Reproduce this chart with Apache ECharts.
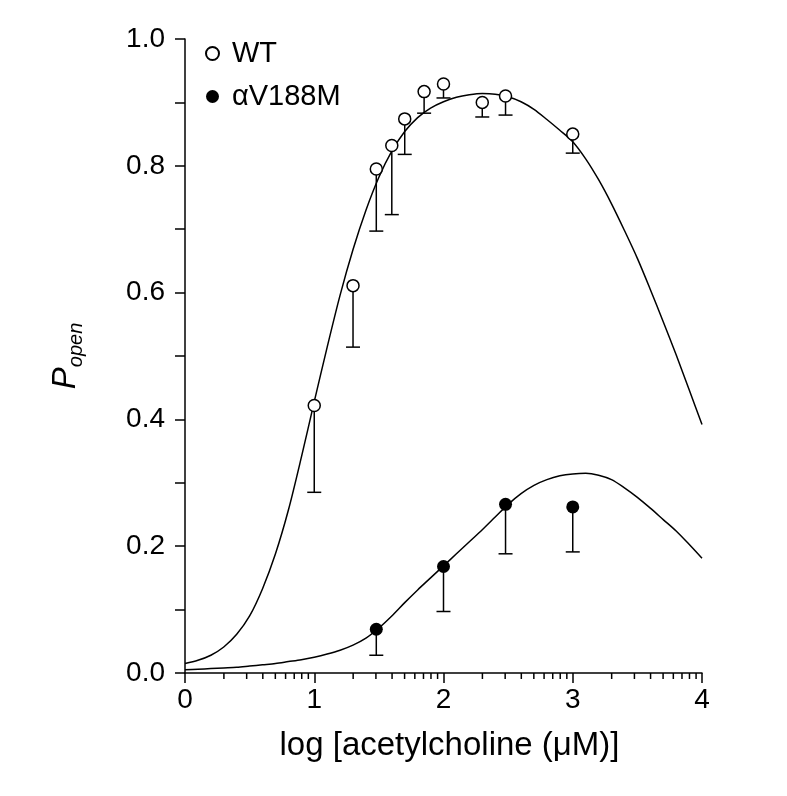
<!DOCTYPE html>
<html><head><meta charset="utf-8">
<script src="https://cdn.jsdelivr.net/npm/echarts@6/dist/echarts.min.js"></script>
<style>html,body{margin:0;padding:0;background:#fff;}#c{width:787px;height:796px;}</style>
</head><body><div id="c"></div>
<script>
// ---- data ----
const wtX     = [1.0, 1.3, 1.48, 1.6, 1.7, 1.85, 2.0, 2.3, 2.48, 3.0];
const wtY     = [0.422, 0.611, 0.795, 0.832, 0.874, 0.917, 0.929, 0.900, 0.910, 0.850];
const wtLow   = [0.285, 0.514, 0.697, 0.723, 0.818, 0.883, 0.907, 0.877, 0.880, 0.820];

const mutX    = [1.48, 2.0, 2.48, 3.0];
const mutY    = [0.069, 0.168, 0.266, 0.262];
const mutLow  = [0.028, 0.097, 0.188, 0.191];

// fitted curves, read at steps of 0.1 along x
const curveX = [0, 0.1, 0.2, 0.3, 0.4, 0.5, 0.6, 0.7, 0.8, 0.9,
                1.0, 1.1, 1.2, 1.3, 1.4, 1.5, 1.6, 1.7, 1.8, 1.9,
                2.0, 2.1, 2.2, 2.3, 2.4, 2.5, 2.6, 2.7, 2.8, 2.9,
                3.0, 3.1, 3.2, 3.3, 3.4, 3.5, 3.6, 3.7, 3.8, 3.9, 4.0];
const wtCurveY = [0.015, 0.020, 0.028, 0.041, 0.061, 0.090, 0.133, 0.188, 0.257, 0.340,
                  0.428, 0.514, 0.596, 0.668, 0.730, 0.782, 0.823, 0.854, 0.876, 0.891,
                  0.901, 0.908, 0.912, 0.914, 0.913, 0.909, 0.901, 0.889, 0.873, 0.856,
                  0.838, 0.811, 0.778, 0.740, 0.698, 0.654, 0.605, 0.554, 0.502, 0.447, 0.392];
const mutCurveY = [0.005, 0.006, 0.007, 0.008, 0.009, 0.011, 0.013, 0.015, 0.018, 0.021,
                   0.025, 0.030, 0.036, 0.044, 0.055, 0.071, 0.090, 0.111, 0.131, 0.150,
                   0.169, 0.188, 0.207, 0.226, 0.246, 0.266, 0.283, 0.296, 0.305, 0.311,
                   0.314, 0.315, 0.312, 0.305, 0.292, 0.277, 0.260, 0.242, 0.224, 0.203, 0.181];

const xTicks = [0, 1, 2, 3, 4];
const yTickLabels = ['0.0', '0.2', '0.4', '0.6', '0.8', '1.0'];
const seriesNames = ['WT', '\u03b1V188M'];
const xTitle = 'log [acetylcholine (\u03bcM)]';

// log minor tick positions within each decade
const minorTicks = [];
for (let d = 0; d < 4; d++) for (let k = 2; k <= 9; k++) minorTicks.push(d + Math.log10(k));

const FONT = '"Liberation Sans", Arial, Helvetica, sans-serif';
const zip = (a, b) => a.map((v, i) => [v, b[i]]);

function errBars(xs, ys, lows) {
  return {
    type: 'custom', silent: true, z: 3, clip: false,
    data: xs.map((x, i) => [x, ys[i], lows[i]]),
    renderItem: (params, api) => {
      const p = api.coord([api.value(0), api.value(1)]);
      const q = api.coord([api.value(0), api.value(2)]);
      const st = { stroke: '#000', lineWidth: 1.5 };
      return { type: 'group', children: [
        { type: 'line', shape: { x1: p[0], y1: p[1], x2: q[0], y2: q[1] }, style: st },
        { type: 'line', shape: { x1: q[0] - 7, y1: q[1], x2: q[0] + 7, y2: q[1] }, style: st }
      ]};
    }
  };
}

const chart = echarts.init(document.getElementById('c'), null, { renderer: 'canvas' });
chart.setOption({
  animation: false,
  backgroundColor: '#fff',
  textStyle: { fontFamily: FONT, color: '#000' },
  grid: { left: 185, right: 85, top: 39, bottom: 123 },
  legend: {
    orient: 'vertical', left: 205, top: 38, padding: 0,
    itemWidth: 13, itemHeight: 13, itemGap: 12,
    data: [{ name: seriesNames[0], icon: 'circle' }, { name: seriesNames[1], icon: 'circle' }],
    textStyle: { fontFamily: FONT, fontSize: 29, color: '#000', lineHeight: 31, padding: [0, 0, 0, 8] }
  },
  xAxis: {
    type: 'value', min: 0, max: 4, interval: 1,
    axisLine: { lineStyle: { color: '#000', width: 1.5 } },
    axisTick: { length: 10, lineStyle: { color: '#000', width: 1.5 } },
    axisLabel: { color: '#000', fontSize: 28, fontFamily: FONT, margin: 13,
      formatter: v => String(xTicks[Math.round(v)]) },
    splitLine: { show: false },
    name: xTitle, nameLocation: 'middle', nameGap: 56,
    nameTextStyle: { fontSize: 33, fontFamily: FONT, color: '#000', padding: [0, 0, 0, 12] }
  },
  yAxis: {
    type: 'value', min: 0, max: 1, interval: 0.1,
    axisLine: { lineStyle: { color: '#000', width: 1.5 } },
    axisTick: { length: 10, lineStyle: { color: '#000', width: 1.5 } },
    axisLabel: { color: '#000', fontSize: 28, fontFamily: FONT, margin: 20,
      formatter: v => { const i = Math.round(v * 10); return i % 2 === 0 ? yTickLabels[i / 2] : ''; } },
    splitLine: { show: false },
    name: '{p|P}{s|open}', nameLocation: 'middle', nameGap: 99,
    nameTextStyle: { rich: {
      p: { fontSize: 33, fontStyle: 'italic', fontFamily: FONT, color: '#000', verticalAlign: 'middle' },
      s: { fontSize: 20, fontStyle: 'italic', fontFamily: FONT, color: '#000', verticalAlign: 'middle', padding: [20, 0, 0, 0] }
    } }
  },
  series: [
    { type: 'line', data: zip(curveX, wtCurveY), smooth: 0.3, showSymbol: false, silent: true,
      lineStyle: { color: '#000', width: 1.5 }, z: 2 },
    { type: 'line', data: zip(curveX, mutCurveY), smooth: 0.3, showSymbol: false, silent: true,
      lineStyle: { color: '#000', width: 1.5 }, z: 2 },
    errBars(wtX, wtY, wtLow),
    errBars(mutX, mutY, mutLow),
    { name: seriesNames[0], type: 'scatter', data: zip(wtX, wtY), symbol: 'circle', symbolSize: 12, z: 5,
      itemStyle: { color: '#fff', borderColor: '#000', borderWidth: 1.5, opacity: 1 } },
    { name: seriesNames[1], type: 'scatter', data: zip(mutX, mutY), symbol: 'circle', symbolSize: 13, z: 5,
      itemStyle: { color: '#000', borderColor: '#000', borderWidth: 0, opacity: 1 } },
    { type: 'custom', silent: true, clip: false, z: 4,
      data: minorTicks.map(v => [v, 0]),
      renderItem: (params, api) => {
        const p = api.coord([api.value(0), 0]);
        return { type: 'line', shape: { x1: p[0], y1: p[1], x2: p[0], y2: p[1] + 6 },
          style: { stroke: '#000', lineWidth: 1.5 } };
      } }
  ]
});
</script></body></html>
